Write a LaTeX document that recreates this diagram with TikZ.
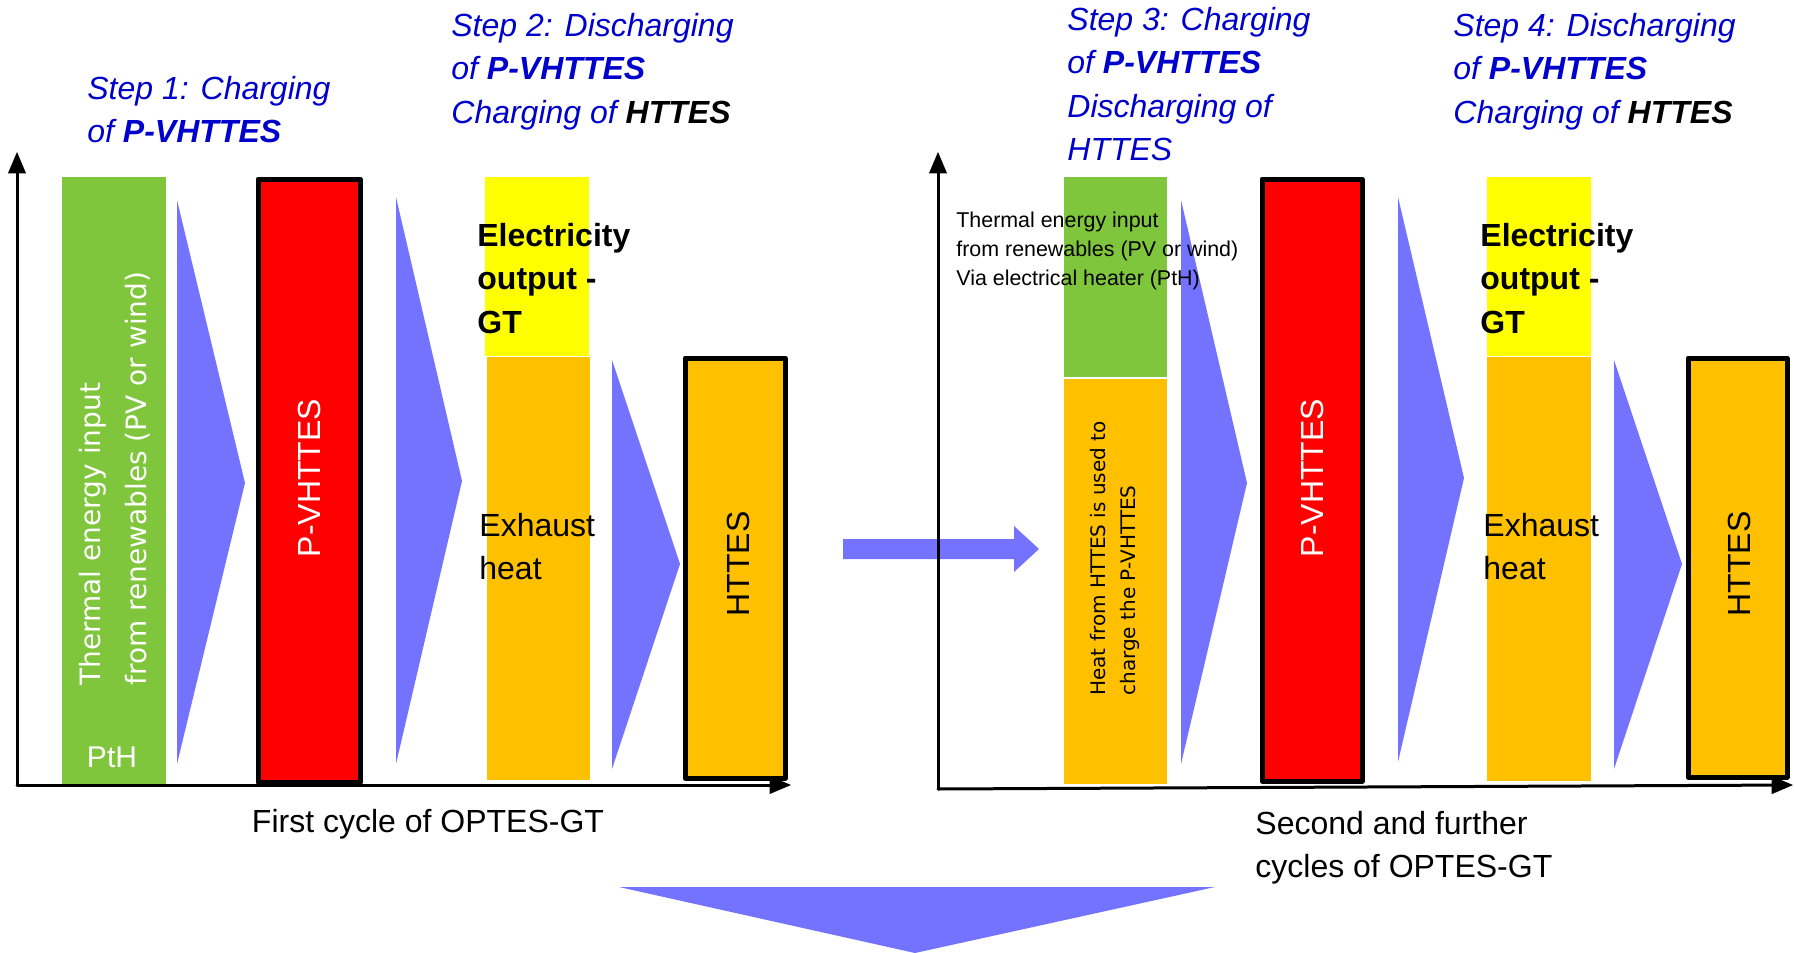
\documentclass[tikz,border=0pt]{standalone}
\usepackage{fontspec}
\setmainfont{Liberation Sans}
\newfontfamily\verdfont{DejaVu Sans}
\usepackage{tikz}
\usetikzlibrary{arrows}
\definecolor{qqqqcc}{rgb}{0.,0.,0.8}
\definecolor{ttttff}{rgb}{0.451,0.451,1.}
\definecolor{ffqqqq}{rgb}{1.,0.,0.}
\definecolor{ffccqq}{rgb}{1.,0.753,0.}
\definecolor{ffffqq}{rgb}{1.,1.,0.}
\definecolor{ccfftt}{rgb}{0.502,0.776,0.235}
\tikzset{
  steplabel/.style={align=left,anchor=north west,inner sep=0pt,text=qqqqcc,
    font=\fontsize{16}{21.7}\selectfont\itshape},
  bigtext/.style={align=left,anchor=north west,inner sep=0pt,
    font=\fontsize{16}{21.7}\selectfont},
  barlabel/.style={rotate=90,inner sep=0pt,font=\fontsize{16}{19}\selectfont},
  flowtri/.style={fill=ttttff},
  axisline/.style={->,line width=1.5pt}
}
\begin{document}
\begin{tikzpicture}[line cap=round,line join=round,>=triangle 45,x=0.5pt,y={(0pt,-0.5pt)}]
\useasboundingbox (0,0) rectangle (1794,953);
% first cycle
\draw [axisline] (17,785) -- (17,152);
\draw [axisline] (17,785) -- (791,785);
\fill [ccfftt] (62,177) rectangle (166,784);
\fill [flowtri] (177,200) -- (245,483) -- (177,764) -- cycle;
\filldraw [fill=ffqqqq,line width=2.5pt] (258,179) rectangle (360,782);
\fill [flowtri] (396,197) -- (462,481) -- (396,764) -- cycle;
\fill [ffffqq] (485,177) rectangle (589,356);
\fill [ffccqq] (487,357) rectangle (590,780);
\fill [flowtri] (612,360) -- (680,564) -- (612,769) -- cycle;
\filldraw [fill=ffccqq,line width=2.5pt] (685,358) rectangle (785,778);
\node [rotate=90,anchor=west,align=left,inner sep=0pt,text=white,
  font=\verdfont\fontsize{14}{23}\selectfont] (thin1) at (115,686)
  {Thermal energy input\\from renewables (PV or wind)};
\node [text=white,inner sep=0pt,font=\fontsize{15}{18}\selectfont] (pth1) at (112,757) {PtH};
\node [barlabel,text=white] (pv1) at (309,478) {P-VHTTES};
\node [barlabel] (ht1) at (738,564) {HTTES};
\node [bigtext,font=\fontsize{16}{21.7}\selectfont\bfseries] (el1) at (477,223) {Electricity\\output -\\GT};
\node [bigtext] (ex1) at (479,513) {Exhaust\\heat};
\node [font=\fontsize{16}{19}\selectfont] (cyc1) at (428,824) {First cycle of OPTES-GT};
\node [steplabel] (st1) at (87,76) {Step 1: Charging\\of \textbf{P-VHTTES}};
\node [steplabel] (st2) at (451,13) {Step 2: Discharging\\of \textbf{P-VHTTES}\\Charging of {\bfseries\color{black}HTTES}};
% transition
\fill [ttttff] (843,539) -- (1014,539) -- (1014,526) -- (1039,549) -- (1014,572) -- (1014,559) -- (843,559) -- cycle;
\fill [ttttff] (619,887) -- (1215,887) -- (915,953) -- cycle;
% second and further cycles
\draw [axisline] (938,789) -- (938,152);
\draw [axisline] (938,789) -- (1793,785);
\fill [ccfftt] (1064,177) rectangle (1167,377);
\fill [ffccqq] (1064,379) rectangle (1167,784);
\fill [flowtri] (1181,200) -- (1247,483) -- (1181,764) -- cycle;
\filldraw [fill=ffqqqq,line width=2.5pt] (1262,179) rectangle (1362,781);
\fill [flowtri] (1398,197) -- (1464,478) -- (1398,762) -- cycle;
\fill [ffffqq] (1487,177) rectangle (1591,356);
\fill [ffccqq] (1487,357) rectangle (1591,781);
\fill [flowtri] (1614,360) -- (1682,564) -- (1614,769) -- cycle;
\filldraw [fill=ffccqq,line width=2.5pt] (1688,358) rectangle (1787,777);
\node [align=left,anchor=north west,inner sep=0pt,font=\fontsize{10.7}{14.3}\selectfont] (thin2) at (956,212)
  {Thermal energy input\\from renewables (PV or wind)\\Via electrical heater (PtH)};
\node [rotate=90,anchor=west,align=left,inner sep=0pt,
  font=\verdfont\fontsize{10}{15.4}\selectfont] (heat2) at (1115,696)
  {Heat from HTTES is used to\\charge the P-VHTTES};
\node [barlabel,text=white] (pv2) at (1312,478) {P-VHTTES};
\node [barlabel] (ht2) at (1739,564) {HTTES};
\node [bigtext,font=\fontsize{16}{21.7}\selectfont\bfseries] (el2) at (1480,223) {Electricity\\output -\\GT};
\node [bigtext] (ex2) at (1483,513) {Exhaust\\heat};
\node [bigtext] (cyc2) at (1255,811) {Second and further\\cycles of OPTES-GT};
\node [steplabel] (st3) at (1067,7) {Step 3: Charging\\of \textbf{P-VHTTES}\\Discharging of\\HTTES};
\node [steplabel] (st4) at (1453,13) {Step 4: Discharging\\of \textbf{P-VHTTES}\\Charging of {\bfseries\color{black}HTTES}};
\end{tikzpicture}
\end{document}
